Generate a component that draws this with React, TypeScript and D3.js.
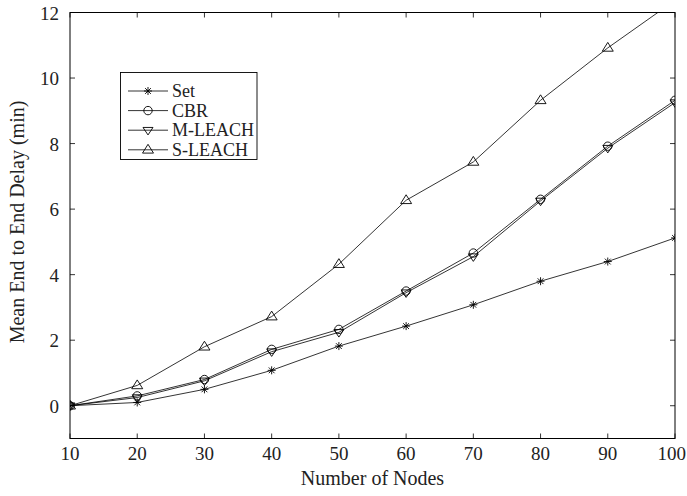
import React from "react";
import * as d3 from "d3";

const nodes = [10, 20, 30, 40, 50, 60, 70, 80, 90, 100];
const setVals = [0, 0.1, 0.5, 1.08, 1.82, 2.43, 3.08, 3.8, 4.4, 5.12];
const cbrVals = [0, 0.3, 0.8, 1.72, 2.33, 3.5, 4.66, 6.3, 7.92, 9.32];
const mleachVals = [0, 0.25, 0.76, 1.65, 2.24, 3.45, 4.55, 6.25, 7.86, 9.25];
const sleachVals = [0, 0.62, 1.8, 2.72, 4.32, 6.27, 7.44, 9.32, 10.92, 12.37];
const xTicks = [10, 20, 30, 40, 50, 60, 70, 80, 90, 100];
const yTicks = [0, 2, 4, 6, 8, 10, 12];
const seriesNames = ["Set", "CBR", "M-LEACH", "S-LEACH"];

const W = 687, H = 496;
const L = 70, R = 675, T = 12.5, B = 438.5;

type Mk = "star" | "circle" | "tdown" | "tup";

function Marker({ x, y, kind }: { x: number; y: number; kind: Mk }) {
  const s = { fill: "none", stroke: "#000", strokeWidth: 0.9 };
  if (kind === "star") {
    const r = 4;
    const d = r * 0.72;
    return (
      <path
        d={`M${x - r},${y}H${x + r}M${x},${y - r}V${y + r}M${x - d},${y - d}L${x + d},${y + d}M${x - d},${y + d}L${x + d},${y - d}`}
        {...s}
      />
    );
  }
  if (kind === "circle") return <circle cx={x} cy={y} r={4.2} {...s} />;
  if (kind === "tdown") {
    const r = 5;
    return <path d={`M${x - r},${y - r * 0.55}L${x + r},${y - r * 0.55}L${x},${y + r * 0.95}Z`} {...s} />;
  }
  const r = 5.5;
  return <path d={`M${x - r},${y + r * 0.6}L${x + r},${y + r * 0.6}L${x},${y - r * 1.0}Z`} {...s} />;
}

export default function App() {
  const x = d3.scaleLinear().domain([10, 100]).range([L, R]);
  const y = d3.scaleLinear().domain([-1, 12]).range([B, T]);
  const all = [setVals, cbrVals, mleachVals, sleachVals];
  const kinds: Mk[] = ["star", "circle", "tdown", "tup"];
  const line = d3
    .line<number>()
    .x((_, i) => x(nodes[i]))
    .y((v) => y(v));
  const font = "'Liberation Serif', 'Times New Roman', serif";
  const tl = 5;
  return (
    <svg width={W} height={H} style={{ position: "absolute", left: 0, top: 0, background: "#fff" }}>
      <defs>
        <clipPath id="plot">
          <rect x={L} y={T} width={R - L} height={B - T} />
        </clipPath>
      </defs>
      <rect x={0} y={0} width={W} height={H} fill="#fff" />
      <g clipPath="url(#plot)">
        {all.map((vals, si) => (
          <g key={si}>
            <path d={line(vals) || ""} fill="none" stroke="#000" strokeWidth={0.8} />
            {vals.map((v, i) => (
              <Marker key={i} x={x(nodes[i])} y={y(v)} kind={kinds[si]} />
            ))}
          </g>
        ))}
      </g>
      {/* ticks */}
      {xTicks.map((t, i) => {
        const last = i === xTicks.length - 1;
        return (
          <g key={"x" + t}>
            <line x1={x(t)} x2={x(t)} y1={B} y2={B - tl} stroke="#000" strokeWidth={0.8} />
            <line x1={x(t)} x2={x(t)} y1={T} y2={T + tl} stroke="#000" strokeWidth={0.8} />
            <text
              x={last ? 686 : x(t)}
              y={460}
              textAnchor={last ? "end" : "middle"}
              fontFamily={font}
              fontSize={19}
              fill="#222"
            >
              {t}
            </text>
          </g>
        );
      })}
      {yTicks.map((t) => (
        <g key={"y" + t}>
          <line x1={L} x2={L + tl} y1={y(t)} y2={y(t)} stroke="#000" strokeWidth={0.8} />
          <line x1={R} x2={R - tl} y1={y(t)} y2={y(t)} stroke="#000" strokeWidth={0.8} />
          <text x={L - 11} y={y(t) + 7} textAnchor="end" fontFamily={font} fontSize={19} fill="#222">
            {t}
          </text>
        </g>
      ))}
      <rect x={L} y={T} width={R - L} height={B - T} fill="none" stroke="#000" strokeWidth={1} />
      <text x={(L + R) / 2} y={485} textAnchor="middle" fontFamily={font} fontSize={20} fill="#222">
        Number of Nodes
      </text>
      <text
        transform={`translate(24,222) rotate(-90)`}
        textAnchor="middle"
        fontFamily={font}
        fontSize={20}
        fill="#222"
      >
        Mean End to End Delay (min)
      </text>
      {/* legend */}
      <rect x={120.5} y={72.5} width={136.5} height={87} fill="#fff" stroke="#000" strokeWidth={0.9} />
      {seriesNames.map((n, i) => {
        const ly = 91 + i * 19.6;
        return (
          <g key={n}>
            <line x1={128} x2={168} y1={ly} y2={ly} stroke="#000" strokeWidth={0.8} />
            <Marker x={148} y={ly} kind={kinds[i]} />
            <text x={172} y={ly + 6} fontFamily={font} fontSize={18} fill="#222">
              {n}
            </text>
          </g>
        );
      })}
    </svg>
  );
}
